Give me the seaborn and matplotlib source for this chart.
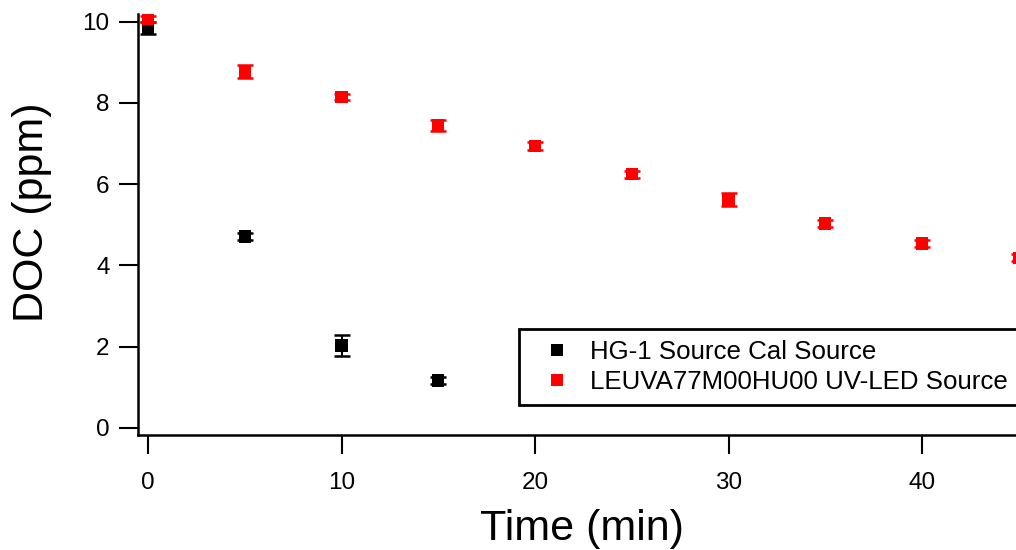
import matplotlib
matplotlib.use("Agg")
import matplotlib.pyplot as plt
import seaborn as sns
import pandas as pd

# ---- data ----
time_hg = [0, 5, 10, 15]
doc_hg = [9.85, 4.71, 2.03, 1.17]
err_hg = [0.15, 0.08, 0.25, 0.08]

time_led = [0, 5, 10, 15, 20, 25, 30, 35, 40, 45]
doc_led = [10.06, 8.77, 8.14, 7.44, 6.93, 6.24, 5.62, 5.03, 4.54, 4.19]
err_led = [0.07, 0.17, 0.08, 0.14, 0.1, 0.08, 0.16, 0.08, 0.08, 0.08]

label_hg = "HG-1 Source Cal Source"
label_led = "LEUVA77M00HU00 UV-LED Source"
x_ticks = [0, 10, 20, 30, 40]
y_ticks = [0, 2, 4, 6, 8, 10]
x_label = "Time (min)"
y_label = "DOC (ppm)"

df = pd.concat([
    pd.DataFrame({"time": time_hg, "doc": doc_hg, "err": err_hg, "source": label_hg}),
    pd.DataFrame({"time": time_led, "doc": doc_led, "err": err_led, "source": label_led}),
], ignore_index=True)

sns.set_style("white")
plt.rcParams["font.family"] = ["Liberation Sans", "DejaVu Sans"]

W, H = 1016, 550
fig = plt.figure(figsize=(W / 100, H / 100), dpi=100)
left_px, right_px, top_px, bottom_px = 138, 1100, 14, 435
ax = fig.add_axes([left_px / W, 1 - bottom_px / H,
                   (right_px - left_px) / W, (bottom_px - top_px) / H])

palette = {label_hg: "#000000", label_led: "#ff0000"}
for src in [label_hg, label_led]:
    sub = df[df["source"] == src]
    ax.errorbar(sub["time"], sub["doc"], yerr=sub["err"], fmt="none",
                ecolor=palette[src], elinewidth=1.5, capsize=6, capthick=1.8,
                zorder=2 if src == label_hg else 4)

sns.scatterplot(data=df, x="time", y="doc", hue="source", palette=palette,
                marker="s", s=78, linewidth=0, ax=ax, zorder=5, legend=True)

px_x = 19.35
px_y = 40.65
ax.set_xlim(-(148 - left_px) / px_x, (right_px - 148) / px_x)
ax.set_ylim(-(bottom_px - 428) / px_y, (428 - top_px) / px_y)
ax.set_xticks(x_ticks)
ax.set_yticks(y_ticks)

for s in ["top", "right"]:
    ax.spines[s].set_visible(False)
for s in ["left", "bottom"]:
    ax.spines[s].set_linewidth(1.8)
    ax.spines[s].set_color("black")

ax.tick_params(axis="both", direction="out", length=13.5, width=1.5,
               colors="black", labelsize=17.5)
ax.tick_params(axis="x", pad=13)
ax.tick_params(axis="y", pad=7)
ax.tick_params(left=True, bottom=True)

ax.set_xlabel(x_label, fontsize=31, color="black")
ax.set_ylabel(y_label, fontsize=31, color="black")
aw = right_px - left_px
ah = bottom_px - top_px
ax.xaxis.set_label_coords((582 - left_px) / aw, (bottom_px - 509) / ah)
ax.yaxis.set_label_coords((52 - left_px) / aw, (bottom_px - 212) / ah)

leg = ax.legend(loc="upper left", bbox_to_anchor=(519 / W, 1 - 329 / H),
                bbox_transform=fig.transFigure, fontsize=18.6, frameon=True,
                fancybox=False, framealpha=1, borderaxespad=0, borderpad=0.43,
                handlelength=2.1, handletextpad=0.23, labelspacing=0.23,
                title=None)
leg.get_frame().set_edgecolor("black")
leg.get_frame().set_linewidth(2.0)
for t in leg.get_texts():
    t.set_color("black")
for h in leg.legend_handles:
    if hasattr(h, "set_markersize"):
        h.set_markersize(8.5)
    if hasattr(h, "set_markeredgewidth"):
        h.set_markeredgewidth(0)

fig.savefig("out.png", dpi=100)
